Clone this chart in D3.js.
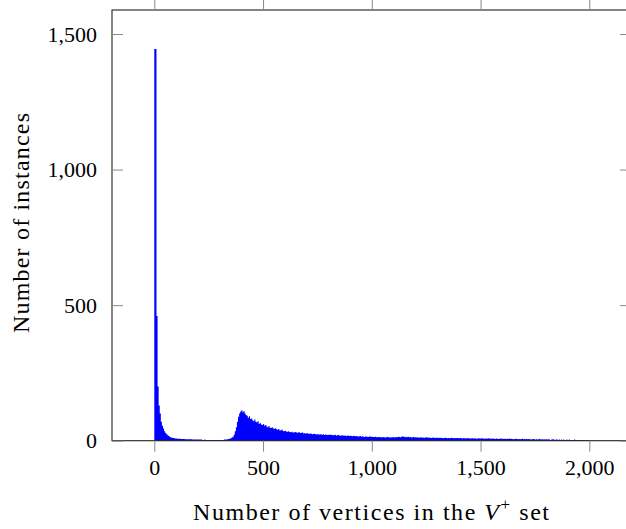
<!DOCTYPE html>
<html><head><meta charset="utf-8">
<script src="https://cdn.jsdelivr.net/npm/d3@7"></script>
<style>body{margin:0;background:#fff}svg{display:block}text{font-family:"Liberation Serif",serif;fill:#000}</style>
</head><body>
<svg id="c" width="626" height="529"></svg>
<script>
// ---- data: histogram, bins of 5 vertices starting at binStart ----
const binWidth = 5;
const counts = [
 1445,1445,460,200,130,100,70,55,45,35,28,24,20,17,14,12,11,10,9,8,
 8,7,7,7,6,6,6,6,5,5,5,5,5,5,5,4,4,4,4,4,
 4,4,4,4,3,3,4,3,3,3,3,3,3,3,3,3,3,3,3,3,
 3,3,3,3,4,4,4,5,6,7,9,12,15,22,35,50,70,88,100,108,
 112,105,110,100,95,92,85,90,80,82,75,72,78,70,68,72,62,65,60,58,
 62,55,58,52,50,54,48,47,50,45,44,46,42,40,43,38,39,41,36,35,
 37,34,33,35,32,31,33,30,30,32,31,29,30,31,28,29,30,27,28,26,
 28,27,25,27,26,24,25,26,24,23,25,22,24,23,22,24,21,23,22,21,
 22,21,23,20,21,20,22,19,20,21,19,18,20,19,18,19,17,18,19,17,
 18,17,16,18,17,16,17,15,16,17,15,16,15,14,16,15,14,15,16,14,
 15,14,14,15,13,14,13,14,13,12,14,13,12,13,14,13,12,13,12,14,
 13,12,14,13,15,14,13,15,16,14,15,13,14,15,13,14,12,13,14,12,
 13,12,13,11,12,13,11,12,11,12,13,11,12,11,10,11,12,11,10,11,
 11,10,11,10,11,9,10,11,10,9,10,9,10,11,9,10,9,10,9,10,
 9,10,9,8,10,9,8,9,10,8,9,8,9,8,9,8,7,8,9,8,
 8,9,8,7,8,7,8,9,7,8,7,8,7,6,8,7,6,7,8,7,
 7,6,7,6,7,6,8,6,7,6,5,6,7,6,5,6,5,6,7,5,
 6,5,6,5,6,5,4,5,6,5,4,5,4,5,6,4,5,4,5,4,
 5,4,5,4,3,4,5,4,3,4,4,3,4,3,4,3,4,3,3,4,
 3,4,3,3,2,3,4,3,2,3,3,2,3,2,3,2,3,2,2,3
];
const binStart = counts.map((_, i) => i * binWidth);
const xTicks = [0, 500, 1000, 1500, 2000];
const yTicks = [0, 500, 1000, 1500];
const xLabel = ["Number of vertices in the ", "V", "+", " set"];
const yLabel = "Number of instances";

// ---- layout ----
const svg = d3.select("#c");
const x = d3.scaleLinear().domain([0, 2000]).range([154.3, 589.3]);
const y = d3.scaleLinear().domain([0, 1500]).range([440.7, 34]);
const xMin = x.invert(112), xMax = x.invert(632);
const yMax = y.invert(10);
const L = x(xMin), R = x(xMax), T = y(yMax), B = y(0);
const fmt = d3.format(",");
const fs = 22;

// bars as one stepped area (avoids seams between thin bars)
const pts = binStart.map((s, i) => [s, counts[i]]);
pts.push([binStart[binStart.length - 1] + binWidth, counts[counts.length - 1]]);
const area = d3.area().x(d => x(d[0])).y0(y(0)).y1(d => y(d[1])).curve(d3.curveStepAfter);
svg.append("path").datum(pts).attr("d", area).attr("fill", "#0000ff");

// frame
svg.append("rect").attr("x", L).attr("y", T).attr("width", R - L).attr("height", B - T)
  .attr("fill", "none").attr("stroke", "#222").attr("stroke-width", 1.1);

// axes (ticks outward on x, inward on y)
const xb = svg.append("g").attr("transform", `translate(0,${B})`)
  .call(d3.axisBottom(x).tickValues(xTicks).tickSize(11).tickPadding(8).tickFormat(fmt));
const xt = svg.append("g").attr("transform", `translate(0,${T})`)
  .call(d3.axisTop(x).tickValues(xTicks).tickSize(10).tickFormat(""));
const yl = svg.append("g").attr("transform", `translate(${L},0)`)
  .call(d3.axisLeft(y).tickValues(yTicks).tickSize(-11).tickPadding(15).tickFormat(fmt));
const yr = svg.append("g").attr("transform", `translate(${R},0)`)
  .call(d3.axisRight(y).tickValues(yTicks).tickSize(-12).tickFormat(""));
[xb, xt, yl, yr].forEach(g => {
  g.select(".domain").remove();
  g.selectAll(".tick line").attr("stroke", "#888").attr("stroke-width", 1);
  g.selectAll(".tick text").style("font-family", "Liberation Serif").style("font-size", fs + "px").attr("fill", "#000");
});

// axis labels
const xl = svg.append("text").attr("x", 371).attr("y", 520).attr("text-anchor", "middle")
  .style("font-size", "24px").attr("textLength", 356).attr("lengthAdjust", "spacing");
xl.append("tspan").text(xLabel[0]);
xl.append("tspan").style("font-style", "italic").text(xLabel[1]);
xl.append("tspan").attr("dy", -10).style("font-size", "17px").text(xLabel[2]);
xl.append("tspan").attr("dy", 10).text(xLabel[3]);

svg.append("text").attr("transform", "translate(29,223) rotate(-90)")
  .attr("text-anchor", "middle").style("font-size", "24px")
  .attr("textLength", 220).attr("lengthAdjust", "spacing").text(yLabel);
</script>
</body></html>
